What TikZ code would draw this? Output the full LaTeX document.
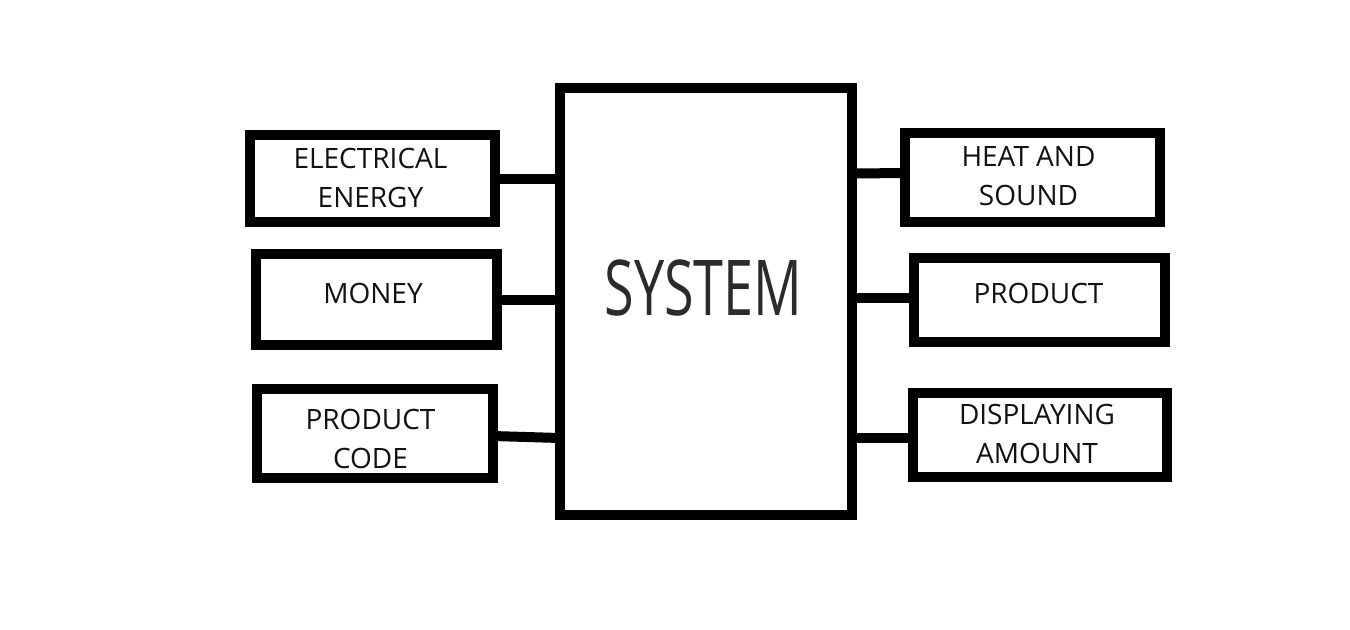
\documentclass[tikz,border=0pt]{standalone}
\usepackage{fontspec}
\setmainfont{Open Sans}
\newfontfamily\sysfont[FakeStretch=0.70]{Open Sans}
\definecolor{systext}{HTML}{2B2B2B}
\definecolor{boxtext}{HTML}{111111}
\begin{document}
\begin{tikzpicture}[x=0.5pt,y=-0.5pt,
  blockbox/.style={draw, line width=5pt, inner sep=0pt, outer sep=0pt},
  lbl/.style={anchor=base, align=center, inner sep=0pt, text=boxtext,
    font=\fontsize{14}{19.5}\selectfont},
  wire/.style={line width=5pt},
  rwire/.style={line width=5pt, line cap=round}]
\useasboundingbox[fill=white] (0,0) rectangle (1350,629);

% system
\node[blockbox, minimum width=146pt, minimum height=213.5pt] (sys) at (706,301.5) {};
\node[anchor=base, inner sep=0pt, text=systext, font=\sysfont\fontsize{38.5}{40}\selectfont] (systxt) at (703.5,315) {SYSTEM};

% left boxes
\node[blockbox, minimum width=122.5pt, minimum height=43.5pt] (elec) at (372.5,178.5) {};
\node[blockbox, minimum width=120.5pt, minimum height=45.5pt] (money) at (376.5,299.5) {};
\node[blockbox, minimum width=118pt, minimum height=44.5pt] (pcode) at (375,433.5) {};

% right boxes
\node[blockbox, minimum width=127.5pt, minimum height=44.5pt] (heat) at (1032.5,177.5) {};
\node[blockbox, minimum width=125.5pt, minimum height=42pt] (prod) at (1039.5,300) {};
\node[blockbox, minimum width=127pt, minimum height=42pt] (disp) at (1040,435) {};

% texts (base anchor = baseline of last line)
\node[lbl] (elect) at (370.5,207) {ELECTRICAL\\ENERGY};
\node[lbl] (moneyt) at (373,303) {MONEY};
\node[lbl] (pcodet) at (370.5,468) {PRODUCT\\CODE};
\node[lbl] (heatt) at (1028.5,205) {HEAT AND\\SOUND};
\node[lbl] (prodt) at (1038.5,303) {PRODUCT};
\node[lbl] (dispt) at (1037,463) {DISPLAYING\\AMOUNT};

% connectors left
\draw[wire] (elec.east) -- (elec.east -| sys.west);
\draw[wire] ([yshift=-0.25pt]money.east) -- ([yshift=-0.25pt]money.east -| sys.west);
\draw[wire] ([yshift=-1.25pt]pcode.east) -- ([yshift=-2.25pt]pcode.east -| sys.west);

% connectors right
\draw[rwire] ([yshift=2.25pt]heat.west) -- ([yshift=2pt]heat.west -| sys.east);
\draw[rwire] ([yshift=1pt]prod.west) -- ([yshift=1pt]prod.west -| sys.east);
\draw[rwire] ([yshift=-1.5pt]disp.west) -- ([xshift=3pt,yshift=-1.5pt]disp.west -| sys.east);
\end{tikzpicture}
\end{document}
